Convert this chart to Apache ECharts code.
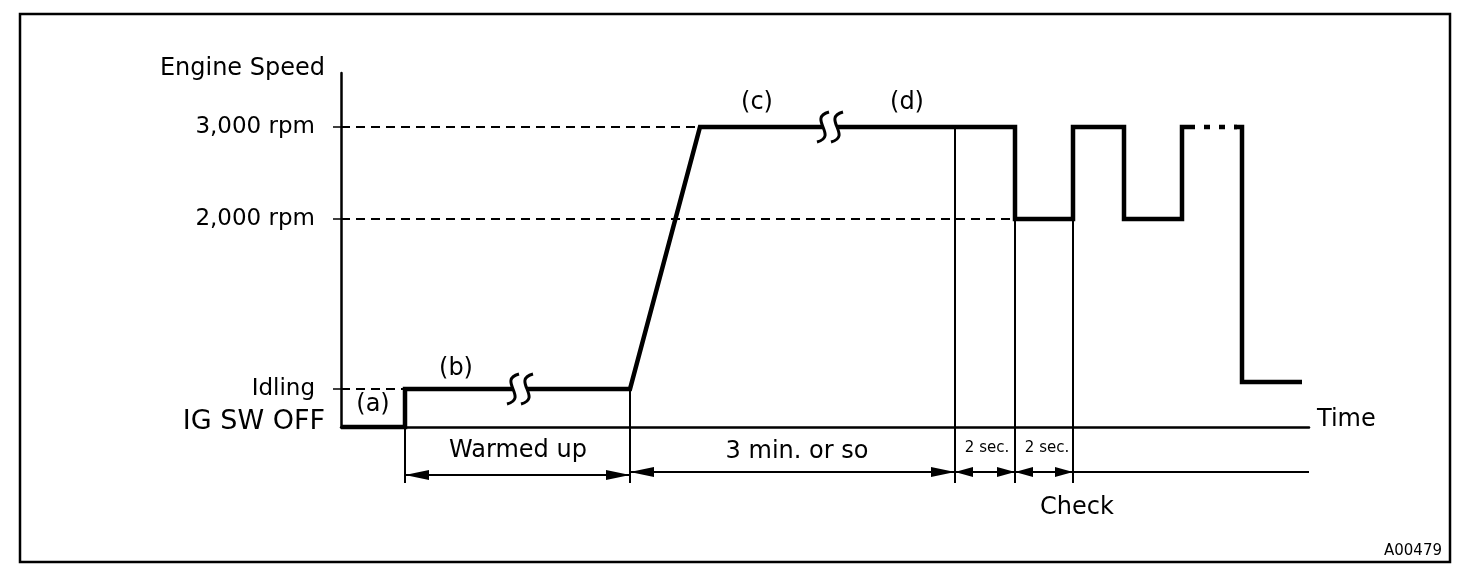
<!DOCTYPE html>
<html>
<head>
<meta charset="utf-8">
<script src="https://cdn.jsdelivr.net/npm/echarts@6/dist/echarts.min.js"></script>
<style>
  html, body { margin: 0; padding: 0; background: #fff; }
  #chart { width: 1472px; height: 576px; }
</style>
</head>
<body>
<div id="chart"></div>
<script>
// ---- Data (schematic units: x = time position, y = engine-speed level) ----
const levelValues = [0, 38, 208, 300];
const levelLabels = ['IG SW OFF', 'Idling', '2,000 rpm', '3,000 rpm'];

const traceX = [0, 64, 64, 289, 359, 674, 674, 732, 732, 783, 783, 841, 841, 854];
const traceY = [0, 0, 38, 38, 300, 300, 208, 208, 300, 300, 208, 208, 300, 300];
const dottedX = [863, 896];
const dottedY = [300, 300];
const tailX = [893, 901, 901, 961];
const tailY = [300, 300, 45, 45];

const refEndX = [359, 674, 64];
const refLevel = [300, 208, 38];

const guideX = [64, 289, 614, 674, 732];
const guideTop = [38, 38, 300, 208, 208];
const guideBottom = -56;

const spanStart = [64, 289, 614, 674];
const spanEnd = [289, 614, 674, 732];
const spanLevel = [-48, -45, -45, -45];
const baseLineX = [732, 968];
const baseLineY = -45;

const breakX = [179, 489];
const breakY = [38, 300];

const noteTexts = ['(a)', '(b)', '(c)', '(d)', 'Warmed up', '3 min. or so', '2 sec.', '2 sec.', 'Check'];
const noteX = [32, 115, 416, 566, 177, 456, 646, 706, 736];
const noteY = [22, 58, 324, 324, -24, -25, -21, -21, -81];

const axisName = 'Engine Speed';
const timeName = 'Time';
const figureCode = 'A00479';

// ---- Build ----
const FONT = 'DejaVu Sans';
const zip = (xs, ys) => xs.map((x, i) => [x, ys[i]]);

const chart = echarts.init(document.getElementById('chart'), null, { renderer: 'canvas' });

const option = {
  animation: false,
  backgroundColor: '#fff',
  textStyle: { fontFamily: FONT, color: '#000' },
  title: {
    text: figureCode,
    right: 25,
    top: 539,
    textStyle: { fontFamily: FONT, fontSize: 15, fontWeight: 'normal', color: '#000' }
  },
  graphic: [{
    type: 'rect',
    shape: { x: 20, y: 14, width: 1430, height: 548 },
    style: { fill: null, stroke: '#000', lineWidth: 2.5 },
    silent: true
  }],
  grid: { left: 341, right: 163, top: 73, bottom: 149, containLabel: false, outerBoundsMode: 'none' },
  xAxis: {
    type: 'value', min: 0, max: 968,
    axisLine: { show: true, lineStyle: { color: '#000', width: 2.5 } },
    axisTick: { show: false }, axisLabel: { show: false }, splitLine: { show: false },
    name: '{t|' + timeName + '}', nameLocation: 'end', nameGap: 8,
    nameTextStyle: {
      fontFamily: FONT, fontSize: 24, color: '#000', align: 'left', verticalAlign: 'middle',
      rich: { t: { fontFamily: FONT, fontSize: 24, color: '#000', padding: [0, 0, 14, 0] } }
    }
  },
  yAxis: {
    type: 'value', min: 0, max: 354,
    axisLine: { show: true, lineStyle: { color: '#000', width: 2.5 } },
    splitLine: { show: false },
    axisTick: { show: true, customValues: levelValues.slice(1), length: 8, inside: false, lineStyle: { color: '#000', width: 1.5 } },
    axisLabel: {
      show: true,
      customValues: levelValues,
      margin: 16,
      color: '#000',
      formatter: function (v) {
        const i = levelValues.indexOf(v);
        if (i < 0) return '';
        return i === 0 ? '{off|' + levelLabels[i] + '}' : '{lv|' + levelLabels[i] + '}';
      },
      rich: {
        lv: { fontFamily: FONT, fontSize: 23, color: '#000', padding: [0, 10, 0, 0] },
        off: { fontFamily: FONT, fontSize: 27, color: '#000', padding: [0, 0, 10, 0] }
      }
    },
    name: axisName, nameLocation: 'end', nameGap: 4,
    nameTextStyle: { fontFamily: FONT, fontSize: 24, color: '#000', align: 'right', verticalAlign: 'middle', padding: [0, 16, 0, 0] }
  },
  series: [
    // dashed reference lines from the axis
    ...refEndX.map((x, i) => ({
      type: 'line', symbol: 'none', clip: false, silent: true, z: 2,
      data: [[0, refLevel[i]], [x, refLevel[i]]],
      lineStyle: { color: '#000', width: 2, type: [9, 6] }
    })),
    // thin guide verticals
    {
      type: 'lines', coordinateSystem: 'cartesian2d', clip: false, silent: true, z: 2,
      data: guideX.map((x, i) => ({ coords: [[x, guideTop[i]], [x, guideBottom]] })),
      lineStyle: { color: '#000', width: 2, opacity: 1 }
    },
    // duration arrows (double-headed)
    {
      type: 'custom', coordinateSystem: 'cartesian2d', clip: false, silent: true, z: 3,
      data: spanStart.map((s, i) => [s, spanEnd[i], spanLevel[i]]),
      renderItem: function (params, api) {
        const a = api.coord([api.value(0), api.value(2)]);
        const b = api.coord([api.value(1), api.value(2)]);
        const y = a[1];
        const len = (b[0] - a[0]) < 80 ? 18 : 24;
        const w = 5;
        return {
          type: 'group',
          children: [
            { type: 'line', shape: { x1: a[0], y1: y, x2: b[0], y2: y }, style: { stroke: '#000', lineWidth: 2 } },
            { type: 'polygon', shape: { points: [[a[0], y], [a[0] + len, y - w], [a[0] + len, y + w]] }, style: { fill: '#000' } },
            { type: 'polygon', shape: { points: [[b[0], y], [b[0] - len, y - w], [b[0] - len, y + w]] }, style: { fill: '#000' } }
          ]
        };
      }
    },
    {
      type: 'line', symbol: 'none', clip: false, silent: true, z: 2,
      data: baseLineX.map(x => [x, baseLineY]),
      lineStyle: { color: '#000', width: 2 }
    },
    // engine speed trace
    {
      type: 'line', symbol: 'none', clip: false, silent: true, z: 4,
      data: zip(traceX, traceY),
      lineStyle: { color: '#000', width: 4.5, join: 'miter', cap: 'butt' }
    },
    {
      type: 'line', symbol: 'none', clip: false, silent: true, z: 4,
      data: zip(dottedX, dottedY),
      lineStyle: { color: '#000', width: 4.5, type: [6, 9] }
    },
    {
      type: 'line', symbol: 'none', clip: false, silent: true, z: 4,
      data: zip(tailX, tailY),
      lineStyle: { color: '#000', width: 4.5, join: 'miter', cap: 'butt' }
    },
    // break marks
    {
      type: 'custom', coordinateSystem: 'cartesian2d', clip: false, silent: true, z: 6,
      data: zip(breakX, breakY),
      renderItem: function (params, api) {
        const p = api.coord([api.value(0), api.value(1)]);
        const cx = p[0], cy = p[1];
        const s = function (dx) {
          const x = cx + dx;
          return {
            type: 'bezierCurve',
            shape: { x1: x + 6, y1: cy - 15, cpx1: x - 16, cpy1: cy - 9, cpx2: x + 16, cpy2: cy + 9, x2: x - 6, y2: cy + 15 },
            style: { stroke: '#000', lineWidth: 3, fill: null }
          };
        };
        return {
          type: 'group',
          children: [
            { type: 'rect', shape: { x: cx - 7, y: cy - 5, width: 14, height: 10 }, style: { fill: '#fff' } },
            s(-7), s(7)
          ]
        };
      }
    },
    // annotations
    {
      type: 'custom', coordinateSystem: 'cartesian2d', clip: false, silent: true, z: 7,
      data: zip(noteX, noteY),
      renderItem: function (params, api) {
        const p = api.coord([api.value(0), api.value(1)]);
        const t = noteTexts[params.dataIndex];
        return {
          type: 'text',
          x: p[0], y: p[1],
          style: {
            text: t, fill: '#000', fontFamily: FONT,
            fontSize: t === '2 sec.' ? 15 : 24,
            align: 'center', verticalAlign: 'middle'
          }
        };
      }
    }
  ]
};

chart.setOption(option);
</script>
</body>
</html>
